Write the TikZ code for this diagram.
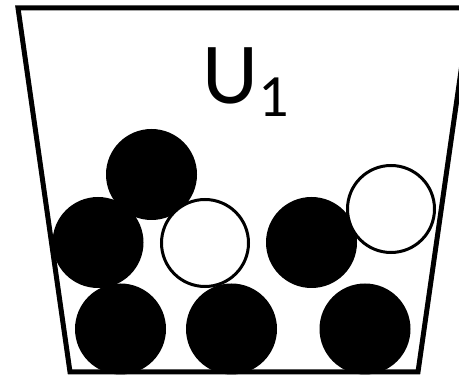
\documentclass[tikz,border=0pt]{standalone}
\usepackage{fontspec}
\setmainfont{Carlito}
\begin{document}
\begin{tikzpicture}[x=1pt,y=-1pt,
  blackball/.style={circle, fill=black, inner sep=0pt, minimum size=91pt},
  whiteball/.style={circle, draw=black, fill=white, line width=3pt, inner sep=0pt, minimum size=87pt},
  urn/.style={draw=black, line width=5pt, line join=miter}]
  \useasboundingbox (0,0) rectangle (459,377);
  \clip (0,0) rectangle (459,377);
  % the urn
  \coordinate (tr) at (470,8);
  \coordinate (tl) at (18,8);
  \coordinate (bl) at (70,372);
  \coordinate (br) at (418,372);
  % balls
  \node[blackball] (b1) at (151.5,174.5) {};
  \node[blackball] (b2) at (98,242.5) {};
  \node[whiteball] (w1) at (205,243) {};
  \node[blackball] (b3) at (311.5,242.5) {};
  \node[whiteball] (w2) at (391,209) {};
  \node[blackball] (b4) at (120.5,329) {};
  \node[blackball] (b5) at (231.5,329) {};
  \node[blackball] (b6) at (365,329) {};
  \draw[urn] (tr) -- (tl) -- (bl) -- (br) -- cycle;
  % label
  \node[anchor=base west, inner sep=0pt] (lbl) at (202,104)
    {\fontsize{87}{87}\selectfont U\raisebox{-13pt}{\fontsize{60}{60}\selectfont 1}};
\end{tikzpicture}
\end{document}
